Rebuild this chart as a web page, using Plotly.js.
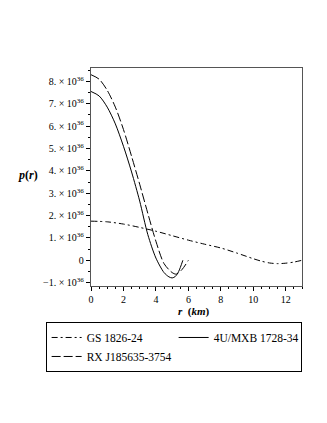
<!DOCTYPE html>
<html>
<head>
<meta charset="utf-8">
<script src="https://cdn.plot.ly/plotly-3.0.1.min.js"></script>
<style>
  html, body { margin: 0; padding: 0; background: #fff; }
  #chart { width: 327px; height: 423px; }
</style>
</head>
<body>
<div id="chart"></div>
<script>
"use strict";

// pressure in units of 1e36, radius in km
const rGS = [0, 1, 2, 3, 4, 5, 6, 7, 8, 9, 10, 10.5, 11, 11.5, 12, 12.5, 13];
const pGS = [1.75, 1.72, 1.62, 1.47, 1.3, 1.1, 0.9, 0.72, 0.55, 0.32, 0.07, -0.04, -0.12, -0.15, -0.13, -0.08, 0];

const rMXB = [0, 0.5, 1, 1.5, 2, 2.5, 3, 3.5, 4, 4.5, 4.8, 5, 5.2, 5.4, 5.66];
const pMXB = [7.55, 7.35, 6.85, 6.1, 5.1, 3.95, 2.65, 1.15, 0.1, -0.55, -0.74, -0.79, -0.72, -0.5, 0];

const rRX = [0, 0.5, 1, 1.5, 2, 2.5, 3, 3.5, 4, 4.5, 5, 5.25, 5.6, 6.0];
const pRX = [8.3, 8.1, 7.6, 6.85, 5.85, 4.65, 3.4, 2.1, 0.85, -0.15, -0.55, -0.62, -0.42, 0];

const names = ["GS 1826-24", "4U/MXB 1728-34", "RX J185635-3754"];

const xTicks = [0, 2, 4, 6, 8, 10, 12];
const yTickVals = [-1, 0, 1, 2, 3, 4, 5, 6, 7, 8];
const yTickText = yTickVals.map(v => v === 0 ? "0" : (v < 0 ? "\u2212" + (-v) : v) + ". \u00d7 10<sup>36</sup>");

const font = "'Liberation Serif', 'Times New Roman', serif";

const traces = [
  { x: rGS, y: pGS, name: names[0], dash: "6px,3px,2px,3px" },
  { x: rMXB, y: pMXB, name: names[1], dash: "solid" },
  { x: rRX, y: pRX, name: names[2], dash: "9px,3px" },
].map(t => ({
  type: "scatter",
  mode: "lines",
  x: t.x,
  y: t.y,
  name: t.name,
  line: { color: "#000", width: 1, dash: t.dash, shape: "spline", smoothing: 0.8 },
}));

const layout = {
  width: 327,
  height: 423,
  margin: { l: 91, r: 25, t: 68, b: 137 },
  paper_bgcolor: "#fff",
  plot_bgcolor: "#fff",
  font: { family: font, size: 10, color: "#000" },
  showlegend: true,
  legend: {
    orientation: "h",
    x: -0.215, xanchor: "left",
    y: -0.165, yanchor: "top",
    bordercolor: "#000", borderwidth: 1,
    font: { family: font, size: 11.5, color: "#000" },
    entrywidth: 82,
    tracegroupgap: 0,
    itemwidth: 30,
  },
  xaxis: {
    range: [0, 13],
    tickvals: xTicks,
    ticks: "outside", ticklen: 4, tickcolor: "#000",
    minor: { dtick: 0.5, ticks: "outside", ticklen: 2, tickcolor: "#000" },
    showgrid: false, zeroline: false,
    showline: true, mirror: true, linecolor: "#555", linewidth: 1.2,
    tickfont: { family: font, size: 10 },
  },
  yaxis: {
    range: [-1.15, 8.6],
    tickvals: yTickVals,
    ticktext: yTickText,
    ticks: "outside", ticklen: 4, tickcolor: "#000",
    minor: { dtick: 0.5, ticks: "outside", ticklen: 2, tickcolor: "#000" },
    showgrid: false, zeroline: false,
    showline: true, mirror: true, linecolor: "#555", linewidth: 1.2,
    tickfont: { family: font, size: 10 },
  },
  annotations: [
    {
      text: "<b><i>p</i>(<i>r</i>)</b>",
      xref: "paper", yref: "paper",
      x: -0.24, y: 0.51, xanchor: "right", yanchor: "middle",
      showarrow: false, font: { family: font, size: 12 },
    },
    {
      text: "<b><i>r</i>  (<i>km</i>)</b>",
      xref: "paper", yref: "paper",
      x: 0.49, y: -0.115, xanchor: "center", yanchor: "middle",
      showarrow: false, font: { family: font, size: 11 },
    },
  ],
};

Plotly.newPlot("chart", traces, layout, { displayModeBar: false, staticPlot: true });
</script>
</body>
</html>
